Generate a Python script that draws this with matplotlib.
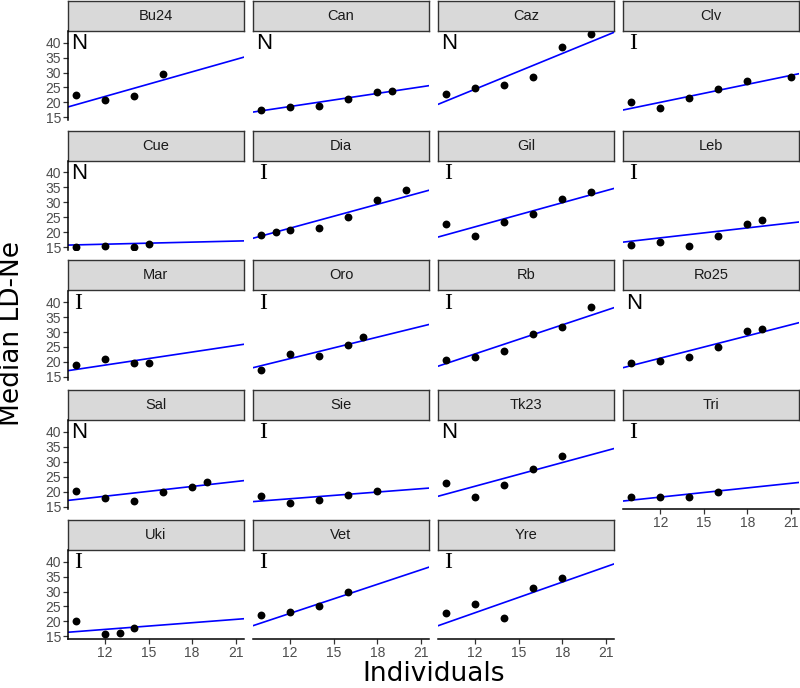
import matplotlib
matplotlib.use("Agg")
import matplotlib.pyplot as plt
import numpy as np

# ---- data ----
panels = ["Bu24", "Can", "Caz", "Clv", "Cue", "Dia", "Gil", "Leb", "Mar", "Oro",
          "Rb", "Ro25", "Sal", "Sie", "Tk23", "Tri", "Uki", "Vet", "Yre"]
origin = ["N", "N", "N", "I", "N", "I", "I", "I", "I", "I",
          "I", "N", "N", "I", "N", "I", "I", "I", "I"]

x_Bu24 = [10, 12, 14, 16];            y_Bu24 = [22.6, 20.7, 22.3, 29.4]
x_Can = [10, 12, 14, 16, 18, 19];     y_Can = [17.4, 18.5, 18.8, 21.3, 23.5, 23.9]
x_Caz = [10, 12, 14, 16, 18, 20];     y_Caz = [22.8, 24.8, 25.7, 28.6, 38.5, 42.8]
x_Clv = [10, 12, 14, 16, 18, 21];     y_Clv = [20.3, 18.2, 21.4, 24.6, 27.3, 28.6]
x_Cue = [10, 12, 14, 15];             y_Cue = [15.2, 15.4, 15.1, 16.2]
x_Dia = [10, 11, 12, 14, 16, 18, 20]; y_Dia = [19.2, 20.1, 20.7, 21.4, 25.0, 30.6, 34.0]
x_Gil = [10, 12, 14, 16, 18, 20];     y_Gil = [22.8, 18.8, 23.5, 26.1, 31.0, 33.4]
x_Leb = [10, 12, 14, 16, 18, 19];     y_Leb = [15.8, 16.9, 15.5, 18.9, 22.8, 24.2]
x_Mar = [10, 12, 14, 15];             y_Mar = [19.1, 21.1, 19.5, 19.5]
x_Oro = [10, 12, 14, 16, 17];         y_Oro = [17.3, 22.7, 21.9, 25.7, 28.2]
x_Rb = [10, 12, 14, 16, 18, 20];      y_Rb = [20.5, 21.5, 23.6, 29.2, 31.6, 38.3]
x_Ro25 = [10, 12, 14, 16, 18, 19];    y_Ro25 = [19.7, 20.3, 21.8, 25.1, 30.2, 30.9]
x_Sal = [10, 12, 14, 16, 18, 19];     y_Sal = [20.3, 17.9, 16.9, 19.8, 21.5, 23.2]
x_Sie = [10, 12, 14, 16, 18];         y_Sie = [18.7, 16.1, 17.2, 18.8, 20.2]
x_Tk23 = [10, 12, 14, 16, 18];        y_Tk23 = [22.8, 18.1, 22.4, 27.7, 32.0]
x_Tri = [10, 12, 14, 16];             y_Tri = [18.1, 18.1, 18.4, 19.9]
x_Uki = [10, 12, 13, 14];             y_Uki = [20.1, 15.7, 16.0, 17.9]
x_Vet = [10, 12, 14, 16];             y_Vet = [22.0, 23.1, 25.1, 29.9]
x_Yre = [10, 12, 14, 16, 18];         y_Yre = [22.9, 25.8, 21.3, 31.1, 34.4]

xs = [x_Bu24, x_Can, x_Caz, x_Clv, x_Cue, x_Dia, x_Gil, x_Leb, x_Mar, x_Oro,
      x_Rb, x_Ro25, x_Sal, x_Sie, x_Tk23, x_Tri, x_Uki, x_Vet, x_Yre]
ys = [y_Bu24, y_Can, y_Caz, y_Clv, y_Cue, y_Dia, y_Gil, y_Leb, y_Mar, y_Oro,
      y_Rb, y_Ro25, y_Sal, y_Sie, y_Tk23, y_Tri, y_Uki, y_Vet, y_Yre]

# fitted line parameters (intercept, slope)
intercepts = [5.54, 9.93, 0.66, 8.05, 14.61, 5.50, 5.75, 11.47, 10.23, 6.85,
              3.37, 6.39, 11.95, 13.19, 6.08, 12.06, 12.89, 3.37, 2.51]
slopes = [1.372, 0.727, 1.983, 1.000, 0.116, 1.322, 1.339, 0.554, 0.727, 1.190,
          1.612, 1.240, 0.545, 0.372, 1.314, 0.512, 0.372, 1.612, 1.702]

x_ticks = [12, 15, 18, 21]
y_ticks = [15, 20, 25, 30, 35, 40]

# ---- layout ----
W, H = 800, 688
fig = plt.figure(figsize=(W / 100, H / 100), dpi=100)

ncol = 4
col_left0, col_pitch, pw = 68, 185.1, 175.7
row_top0, row_pitch = 1, 129.75
strip_h, panel_h = 30.0, 89.0
xlim = (9.45, 21.55)
ylim = (14.15, 43.85)

n = len(panels)
for i, name in enumerate(panels):
    r, c = divmod(i, ncol)
    left = col_left0 + col_pitch * c
    st = row_top0 + row_pitch * r
    # strip
    sax = fig.add_axes([left / W, 1 - (st + strip_h) / H, pw / W, strip_h / H])
    sax.set_facecolor("#D9D9D9")
    sax.set_xticks([]); sax.set_yticks([])
    for sp in sax.spines.values():
        sp.set_color("#333333"); sp.set_linewidth(1.0)
    sax.text(0.5, 0.5, name, ha="center", va="center", fontsize=10.5,
             family="Liberation Sans", color="#1A1A1A", transform=sax.transAxes)
    # panel
    pt = st + strip_h
    ax = fig.add_axes([left / W, 1 - (pt + panel_h) / H, pw / W, panel_h / H])
    ax.set_xlim(*xlim); ax.set_ylim(*ylim)
    ax.axline((0, intercepts[i]), slope=slopes[i], color="#0000FF", lw=1.2, zorder=2)
    ax.scatter(xs[i], ys[i], s=32, color="black", zorder=3, linewidths=0)
    lab = origin[i]
    if lab == "I":
        ax.text(10.15, 39.6, "I", ha="center", va="center", fontsize=17,
                family="Liberation Serif", color="black")
    else:
        ax.text(10.2, 39.6, "N", ha="center", va="center", fontsize=16,
                family="Liberation Sans", color="black")
    for sp in ["top", "right"]:
        ax.spines[sp].set_visible(False)
    is_left = (c == 0)
    is_bottom = (i + ncol >= n)
    ax.spines["left"].set_visible(is_left)
    ax.spines["bottom"].set_visible(is_bottom)
    ax.spines["left"].set_linewidth(1.1)
    ax.spines["bottom"].set_linewidth(1.1)
    ax.set_xticks(x_ticks); ax.set_yticks(y_ticks)
    ax.tick_params(axis="both", length=3.5, width=0.9, color="#333333",
                   labelsize=10, labelcolor="#4D4D4D", pad=1.5)
    if is_left:
        ax.set_yticklabels([str(v) for v in y_ticks], family="Liberation Sans")
    else:
        ax.tick_params(axis="y", left=False, labelleft=False)
    if is_bottom:
        ax.set_xticklabels([str(v) for v in x_ticks], family="Liberation Sans")
    else:
        ax.tick_params(axis="x", bottom=False, labelbottom=False)
    ax.patch.set_alpha(0)

fig.text(433.5 / W, 1 - 674 / H, "Individuals", ha="center", va="center",
         fontsize=19, family="DejaVu Sans", color="black")
fig.text(12 / W, 1 - 334 / H, "Median LD-Ne", ha="center", va="center",
         rotation=90, fontsize=19, family="DejaVu Sans", color="black")

fig.savefig("out.png", dpi=100, facecolor="white")
